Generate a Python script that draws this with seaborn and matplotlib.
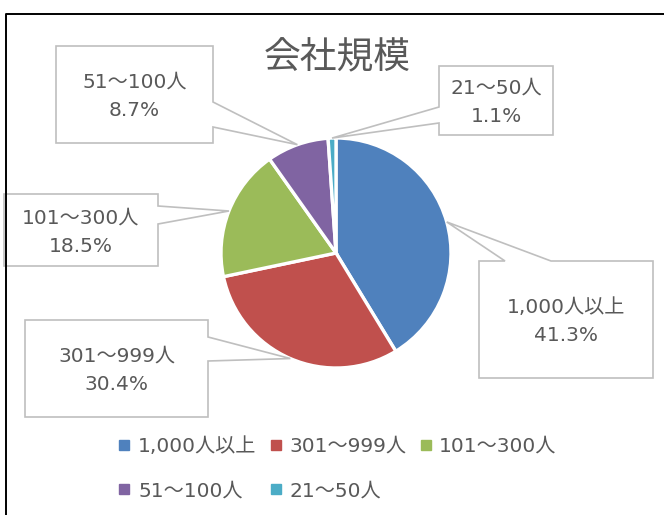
import matplotlib
matplotlib.use("Agg")
import matplotlib.pyplot as plt
import seaborn as sns
import numpy as np
from matplotlib.patches import Polygon
from matplotlib.lines import Line2D

# ---- data ----
categories = ["1,000人以上", "301～999人", "101～300人", "51～100人", "21～50人"]
values = [41.3, 30.4, 18.5, 8.7, 1.1]
pct_labels = ["41.3%", "30.4%", "18.5%", "8.7%", "1.1%"]
colors = ["#4F81BD", "#C0504D", "#9BBB59", "#8064A2", "#4BACC6"]
title = "会社規模"

sns.set_theme(style="white")
plt.rcParams['font.family'] = ['DejaVu Sans', 'Noto Sans CJK JP']

W, H = 664, 515
fig = plt.figure(figsize=(W / 100, H / 100), dpi=100)
ax = fig.add_axes([0, 0, 1, 1])

TXT = "#595959"
cx, cy, r = 336, 253, 115

wedges, _ = ax.pie(values, colors=colors, startangle=90, counterclock=False,
                   center=(cx, H - cy), radius=r,
                   wedgeprops=dict(edgecolor="white", linewidth=2.4))
ax.set_xlim(0, W)
ax.set_ylim(0, H)
ax.set_aspect("equal")
ax.axis("off")

# callout boxes (pixel coords, top-down): x0, y0, x1, y1, notch side, n0, n1
boxes = [
    (479, 261, 653, 378, "top", 505, 551),
    (25, 320, 208, 417, "right", 337, 361),
    (4, 194, 158, 266, "right", 206, 224),
    (56, 46, 213, 143, "right", 102, 127),
    (439, 66, 553, 135, "left", 107, 123),
]

for w, lab, pct, (x0, y0, x1, y1, side, n0, n1) in zip(wedges, categories, pct_labels, boxes):
    mid = np.deg2rad((w.theta1 + w.theta2) / 2)
    tx = cx + r * np.cos(mid)
    ty = cy - r * np.sin(mid)
    if side == "right":
        pts = [(x0, y0), (x1, y0), (x1, n0), (tx, ty), (x1, n1), (x1, y1), (x0, y1)]
    elif side == "left":
        pts = [(x0, y0), (x1, y0), (x1, y1), (x0, y1), (x0, n1), (tx, ty), (x0, n0)]
    else:
        pts = [(x0, y0), (n0, y0), (tx, ty), (n1, y0), (x1, y0), (x1, y1), (x0, y1)]
    pts = [(px, H - py) for px, py in pts]
    ax.add_patch(Polygon(pts, closed=True, facecolor="white", edgecolor="#BFBFBF",
                         linewidth=1.2, zorder=3, joinstyle="miter"))
    ax.text((x0 + x1) / 2, H - (y0 + y1) / 2 - 2, f"{lab}\n{pct}", ha="center", va="center",
            fontsize=14.5, color=TXT, linespacing=1.62, zorder=4)

ax.text(337, H - 58, title, ha="center", va="center", fontsize=26.5, color=TXT, zorder=4,
        family=['Noto Sans CJK JP', 'DejaVu Sans'])

# legend
handles = [Line2D([], [], linestyle="none", marker="s", markersize=6.5,
                  markerfacecolor=c, markeredgecolor=c) for c in colors]
order = [0, 3, 1, 4, 2]
leg = ax.legend([handles[i] for i in order], [categories[i] for i in order],
                ncol=3, loc="center", bbox_to_anchor=(337 / W, 1 - 468.5 / H),
                frameon=False, fontsize=14.5, labelcolor=TXT, handlelength=0.7,
                handletextpad=0.33, columnspacing=0.6, labelspacing=1.28)

# outer frame
fig.add_artist(Line2D([5.5 / W, 5.5 / W, 1.02], [-0.02, 1 - 14.5 / H, 1 - 14.5 / H],
                      color="black", linewidth=1.4, transform=fig.transFigure))

fig.savefig("out.png", dpi=100)
